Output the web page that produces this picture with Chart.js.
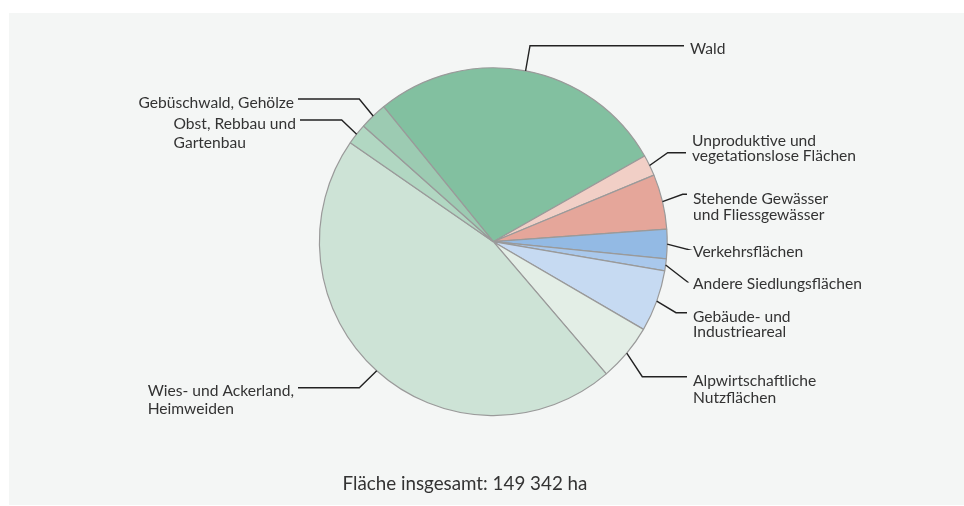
<!DOCTYPE html>
<html lang="de">
<head>
<meta charset="utf-8">
<title>Bodennutzung</title>
<script src="https://cdn.jsdelivr.net/npm/chart.js@4.4.1/dist/chart.umd.min.js"></script>
<style>
  html, body { margin: 0; padding: 0; background: #ffffff; }
  canvas { display: block; }
</style>
</head>
<body>
<canvas id="flaechenChart" width="964" height="506"></canvas>
<script>
/* ============================================================
   DATEN: Bodennutzung in ha (im Uhrzeigersinn ab Wald)
============================================================ */

const kategorien = [
    ["Wald"],
    ["Unproduktive und", "vegetationslose Flächen"],
    ["Stehende Gewässer", "und Fliessgewässer"],
    ["Verkehrsflächen"],
    ["Andere Siedlungsflächen"],
    ["Gebäude- und", "Industrieareal"],
    ["Alpwirtschaftliche", "Nutzflächen"],
    ["Wies- und Ackerland,", "Heimweiden"],
    ["Obst, Rebbau und", "Gartenbau"],
    ["Gebüschwald, Gehölze"]
];

const flaecheHa = [41317, 2900, 7630, 4065, 1660, 8545, 7965, 68540, 2900, 3820];

const farben = [
    "#82c0a0", "#f1cfc6", "#e5a69a", "#93bae4", "#a9c8ec",
    "#c6daf2", "#e3eee6", "#cde3d6", "#b1d7c2", "#9ccbb2"
];

const gesamtText = "Fläche insgesamt: 149 342 ha";

/* ============================================================
   POSITIONEN DER BESCHRIFTUNGEN (Knick, Linienende, Text)
============================================================ */

const beschriftung = [
    { ex: 530,   ey: 45.7,  lx: 684, seite: "r", base: [54] },
    { ex: 667.7, ey: 152.7, lx: 686, seite: "r", base: [145.7, 161] },
    { ex: 682.7, ey: 194.3, lx: 687, seite: "r", base: [204.3, 220] },
    { ex: 687.3, ey: 249.3, lx: 687, seite: "r", base: [257] },
    { ex: 687.3, ey: 281.7, lx: 687, seite: "r", base: [289] },
    { ex: 676,   ey: 312.7, lx: 687, seite: "r", base: [322.3, 337] },
    { ex: 642.3, ey: 376.7, lx: 687, seite: "r", base: [386, 402.7] },
    { ex: 359.3, ey: 387.7, lx: 298, seite: "l", base: [396, 414] },
    { ex: 341.7, ey: 120,   lx: 300, seite: "l", base: [129.3, 147.7] },
    { ex: 359.3, ey: 99,    lx: 298, seite: "l", base: [107.7] }
];

const schrift = "15.6px Lato, 'Noto Sans', sans-serif";
const textFarbe = "#333333";

const hintergrund = {
    id: "hintergrund",
    beforeDraw(chart) {
        const c = chart.ctx;
        c.save();
        c.fillStyle = "#f4f6f5";
        c.fillRect(9, 13, 955, 492);
        c.restore();
    }
};

const leitlinien = {
    id: "leitlinien",
    afterDatasetsDraw(chart) {
        const c = chart.ctx;
        const meta = chart.getDatasetMeta(0);
        c.save();
        c.strokeStyle = "#222222";
        c.lineWidth = 1.4;
        c.font = schrift;
        c.fillStyle = textFarbe;
        c.textBaseline = "alphabetic";
        meta.data.forEach((arc, i) => {
            const p = arc.getProps(["x", "y", "startAngle", "endAngle", "outerRadius"], true);
            const mitte = (p.startAngle + p.endAngle) / 2;
            const ax = p.x + Math.cos(mitte) * p.outerRadius;
            const ay = p.y + Math.sin(mitte) * p.outerRadius;
            const b = beschriftung[i];
            c.beginPath();
            c.moveTo(ax, ay);
            c.lineTo(b.ex, b.ey);
            c.lineTo(b.lx, b.ey);
            c.stroke();

            const zeilen = kategorien[i];
            let tx;
            if (b.seite === "r") {
                tx = b.lx + 6;
            } else {
                const breite = Math.max(...zeilen.map(z => c.measureText(z).width));
                tx = b.lx - 4 - breite;
            }
            c.textAlign = "left";
            zeilen.forEach((z, k) => c.fillText(z, tx, b.base[k]));
        });

        c.font = "18.8px Lato, 'Noto Sans', sans-serif";
        c.textAlign = "center";
        c.fillText(gesamtText, 465, 490);
        c.restore();
    }
};

new Chart(document.getElementById("flaechenChart"), {
    type: "pie",
    data: {
        labels: kategorien,
        datasets: [{
            data: flaecheHa,
            backgroundColor: farben,
            borderColor: "#9a9a9a",
            borderWidth: 1.2
        }]
    },
    options: {
        responsive: false,
        animation: false,
        rotation: -39.1,
        layout: {
            padding: { top: 67.2, bottom: 89.8, left: 318.8, right: 296.2 }
        },
        plugins: {
            legend: { display: false },
            tooltip: { enabled: false }
        }
    },
    plugins: [hintergrund, leitlinien]
});
</script>
</body>
</html>
